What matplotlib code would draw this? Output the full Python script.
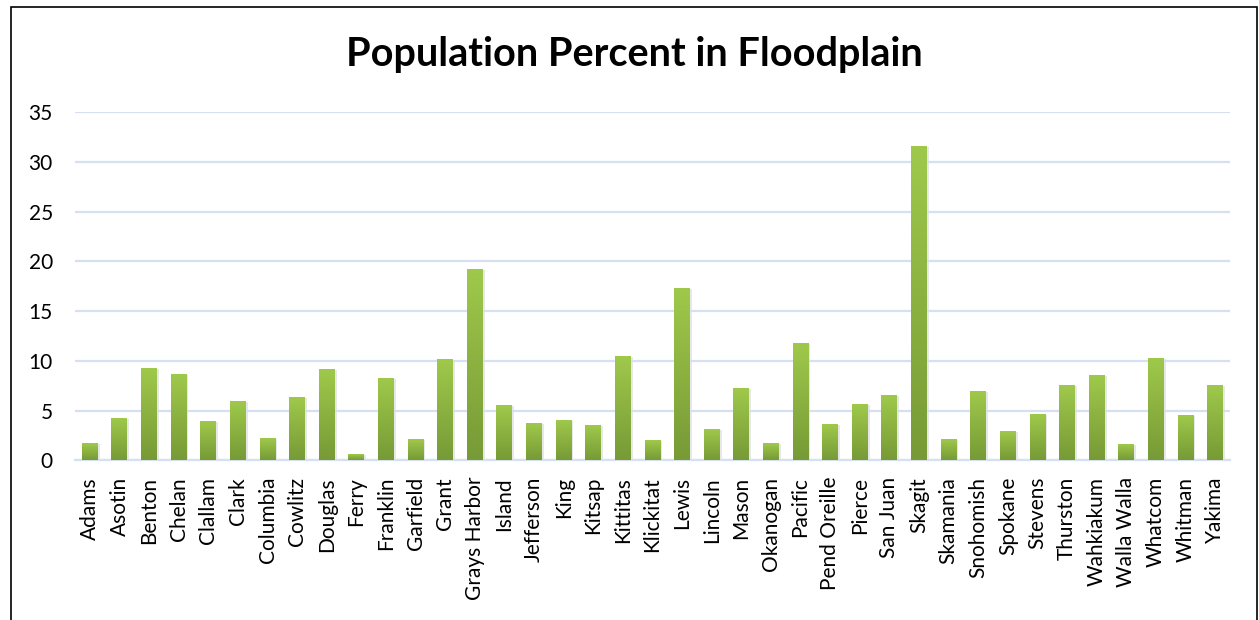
import numpy as np
import matplotlib.pyplot as plt
from matplotlib.patches import Rectangle

# county values
counties = ['Adams', 'Asotin', 'Benton', 'Chelan', 'Clallam', 'Clark', 'Columbia',
            'Cowlitz', 'Douglas', 'Ferry', 'Franklin', 'Garfield', 'Grant',
            'Grays Harbor', 'Island', 'Jefferson', 'King', 'Kitsap', 'Kittitas',
            'Klickitat', 'Lewis', 'Lincoln', 'Mason', 'Okanogan', 'Pacific',
            'Pend Oreille', 'Pierce', 'San Juan', 'Skagit', 'Skamania', 'Snohomish',
            'Spokane', 'Stevens', 'Thurston', 'Wahkiakum', 'Walla Walla', 'Whatcom',
            'Whitman', 'Yakima']
percent = [1.64, 4.16, 9.19, 8.58, 3.86, 5.87, 2.15,
           6.27, 9.08, 0.54, 8.18, 2.04, 10.09,
           19.14, 5.46, 3.65, 3.96, 3.45, 10.39,
           1.94, 17.23, 3.05, 7.17, 1.64, 11.70,
           3.55, 5.56, 6.47, 31.51, 2.04, 6.87,
           2.85, 4.56, 7.48, 8.48, 1.54, 10.19,
           4.46, 7.48]
yticks = [0, 5, 10, 15, 20, 25, 30, 35]

plt.rcParams['font.family'] = ['Lato', 'DejaVu Sans']

fig = plt.figure(figsize=(12.59, 6.2), dpi=100)
ax = fig.add_axes([0.0596, 0.2576, 0.9174, 0.5613])

x = np.arange(len(counties))
bars = ax.bar(x, percent, width=0.54, color='#8CB243', zorder=2)

# vertical gradient on each bar (light top, darker bottom)
grad = np.linspace(0, 1, 256).reshape(-1, 1)
cmap = plt.matplotlib.colors.LinearSegmentedColormap.from_list('g', ['#779A36', '#9FC94B'])
for b in bars:
    x0, w, h = b.get_x(), b.get_width(), b.get_height()
    # soft shadow on the right
    ax.add_patch(Rectangle((x0 + 0.06, 0), w, h, color='#d8d8d8', alpha=0.6, zorder=1.5, lw=0))
    ax.imshow(grad, extent=(x0, x0 + w, 0, h), origin='lower', aspect='auto',
              cmap=cmap, zorder=3)

ax.set_xlim(-0.5, len(counties) - 0.5)
ax.set_ylim(0, 35)
ax.set_yticks(yticks)
ax.set_xticks(x)
ax.set_xticklabels(counties, rotation=90)
ax.tick_params(axis='both', length=0, labelsize=15, colors='black')
ax.tick_params(axis='x', pad=12)
ax.tick_params(axis='y', pad=16)
ax.grid(axis='y', color='#D5E1F1', linewidth=1.6, zorder=0)
for s in ['top', 'right', 'left']:
    ax.spines[s].set_visible(False)
ax.spines['bottom'].set_color('#D5E1F1')
ax.spines['bottom'].set_linewidth(1.6)

fig.text(0.504, 1 - 66 / 620, 'Population Percent in Floodplain', ha='center',
         va='baseline', fontsize=28.5, fontweight='bold')

# chart frame
fig.add_artist(Rectangle((11 / 1259, -0.05), (1256.5 - 11) / 1259, 1.05 - 7 / 620,
                         transform=fig.transFigure, fill=False, edgecolor='black',
                         linewidth=1.2))

fig.savefig('out.png', dpi=100)
